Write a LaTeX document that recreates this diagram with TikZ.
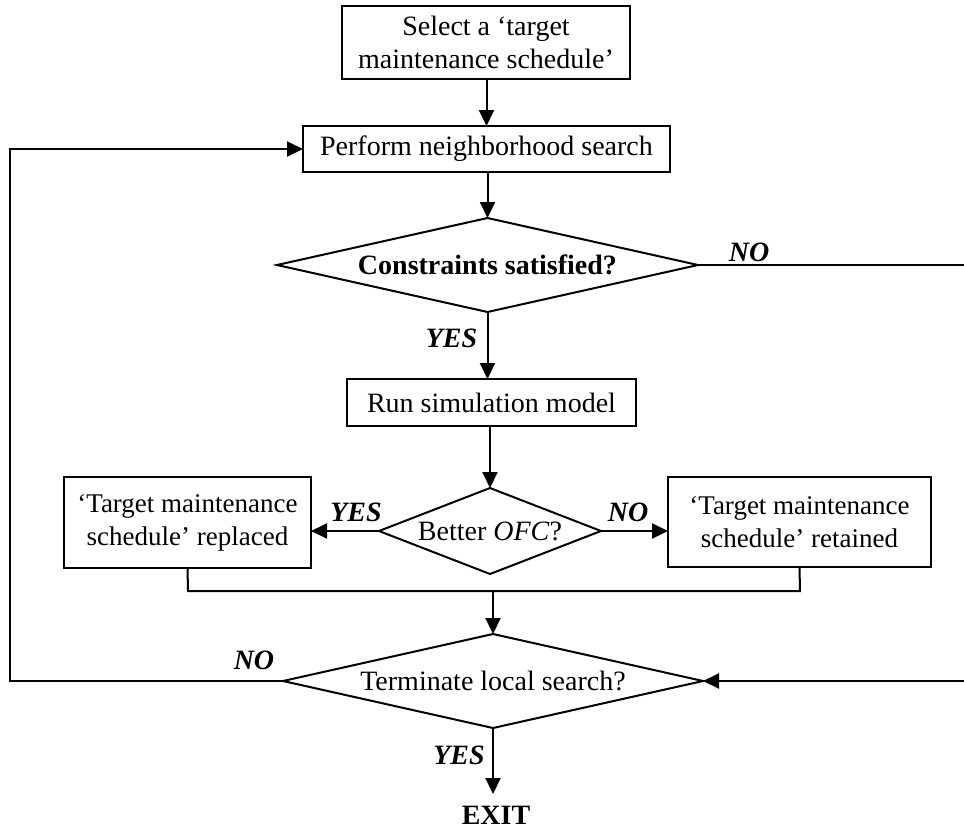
\documentclass[tikz,border=0pt]{standalone}
\usepackage{fontspec}
\setmainfont{Liberation Serif}
\usetikzlibrary{shapes.geometric,arrows.meta}
\tikzset{
  every picture/.style={line width=2pt},
  txt/.style={font=\fontsize{28}{33}\selectfont},
  box/.style={draw, rectangle, align=center, inner sep=0pt, outer sep=0pt, txt},
  dia/.style={draw, diamond, aspect=4.5, align=center, inner sep=0pt, outer sep=0pt, txt},
  lbl/.style={font=\fontsize{28}{33}\selectfont\bfseries\itshape, inner sep=0pt},
  arr/.style={-{Triangle[length=16pt,width=15pt]}}
}
\begin{document}
\begin{tikzpicture}[x=1pt,y=-1pt]
\useasboundingbox (0,0) rectangle (964,833);
\node[box, minimum width=288pt, minimum height=73pt] (b1) at (486,42.5) {Select a ‘target\\maintenance schedule’};
\node[box, minimum width=367pt, minimum height=46pt] (b2) at (486.5,149) {Perform neighborhood search};
\node[dia, minimum width=421pt, minimum height=94pt, font=\fontsize{28}{33}\selectfont\bfseries] (d1) at (487.5,265) {Constraints satisfied?};
\node[box, minimum width=289pt, minimum height=47pt] (b3) at (491.5,402.5) {Run simulation model};
\node[dia, aspect=2.6, minimum width=222pt, minimum height=86pt] (d2) at (490,531) {Better \textit{OFC}?};
\node[box, minimum width=247pt, minimum height=91pt, font=\fontsize{27}{33}\selectfont] (bl) at (187.5,522.5) {‘Target maintenance\\schedule’ replaced};
\node[box, minimum width=263pt, minimum height=90pt, font=\fontsize{27}{33}\selectfont] (br) at (799.5,522) {‘Target maintenance\\schedule’ retained};
\node[dia, minimum width=420pt, minimum height=94pt] (d3) at (493,681) {Terminate local search?};
\node[font=\fontsize{28}{33}\selectfont\bfseries, inner sep=0pt] (exit) at (496,815) {EXIT};

\node[lbl] (no1) at (749,252) {NO};
\node[lbl] (yes1) at (451.5,338) {YES};
\node[lbl] (yes2) at (356,512) {YES};
\node[lbl] (no2) at (628,512) {NO};
\node[lbl] (no3) at (254,660) {NO};
\node[lbl] (yes3) at (459,755) {YES};

\coordinate (mergeL) at (188,591);
\coordinate (mergeR) at (800,591);
\coordinate (exitTip) at (493,794);
\coordinate (leftTop) at (10,149);
\coordinate (leftBot) at (10,681);
\coordinate (rightTop) at (968,265);
\coordinate (rightBot) at (968,681);

\draw[arr] (b1.south -| b2.north) -- (b2.north);
\draw[arr] (b2.south) -- (b2.south -| d1.north) -- (d1.north);
\draw[arr] (d1.south) -- (d1.south |- b3.north);
\draw[arr] (d2.north |- b3.south) -- (d2.north);
\draw[arr] (d2.west) -- (d2.west -| bl.east);
\draw[arr] (d2.east) -- (d2.east -| br.west);
\draw (bl.south) -- (mergeL) -- (mergeR) -- (br.south);
\draw[arr] (d3.north |- mergeL) -- (d3.north);
\draw[arr] (d3.south) -- (exitTip);
\draw[arr] (d3.west) -- (leftBot) -- (leftTop) -- (b2.west);
\draw[arr] (d1.east) -- (rightTop) -- (rightBot) -- (d3.east);
\end{tikzpicture}
\end{document}
